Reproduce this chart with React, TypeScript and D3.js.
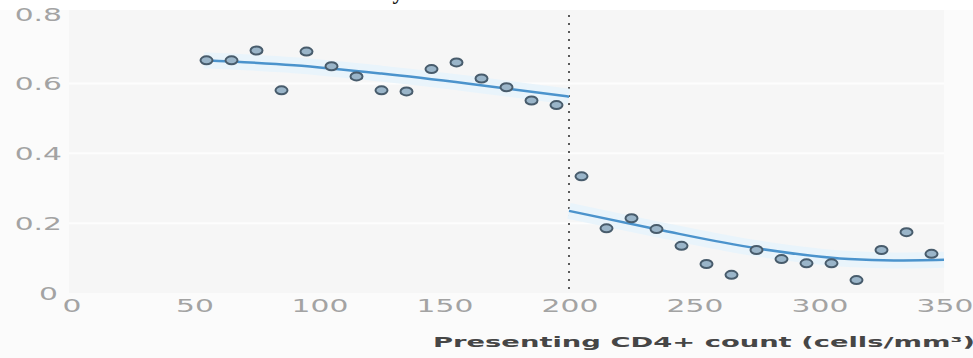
import React, { useEffect, useRef } from "react";
import * as d3 from "d3";

// CD4 count bins (cells/mm3) and observed proportions
const cd4Below = [55, 65, 75, 85, 95, 105, 115, 125, 135, 145, 155, 165, 175, 185, 195];
const propBelow = [0.666, 0.666, 0.694, 0.58, 0.691, 0.649, 0.62, 0.58, 0.577, 0.641, 0.66, 0.614, 0.589, 0.551, 0.538];
const cd4Above = [205, 215, 225, 235, 245, 255, 265, 275, 285, 295, 305, 315, 325, 335, 345];
const propAbove = [0.334, 0.185, 0.214, 0.183, 0.135, 0.083, 0.052, 0.123, 0.097, 0.085, 0.085, 0.037, 0.123, 0.174, 0.112];

// fitted curves
const fitBelowX = [54, 90, 125, 160, 200];
const fitBelowY = [0.666, 0.652, 0.628, 0.599, 0.562];
const fitAboveX = [200, 236, 275, 312, 330, 350];
const fitAboveY = [0.235, 0.181, 0.128, 0.097, 0.093, 0.095];

const xTicks = [0, 50, 100, 150, 200, 250, 300, 350];
const yTicks = [0, 0.2, 0.4, 0.6, 0.8];
const yTickLabels = ["0", "0.2", "0.4", "0.6", "0.8"];
const threshold = 200;
const xTitle = "Presenting CD4+ count (cells/mm³)";

const App = () => {
  const ref = useRef<HTMLDivElement>(null);

  useEffect(() => {
    d3.select(ref.current).selectAll("*").remove();

    const width = 973;
    const height = 358;

    const svg = d3
      .select(ref.current)
      .append("svg")
      .attr("width", width)
      .attr("height", height)
      .style("position", "absolute")
      .style("left", "0px")
      .style("top", "0px")
      .style("background", "#ffffff");

    const x = d3.scaleLinear().domain([0, 350]).range([69, 944]);
    const y = d3.scaleLinear().domain([0, 0.8]).range([293, 13.5]);

    // panel backgrounds
    svg.append("rect").attr("x", 0).attr("y", 10).attr("width", width).attr("height", height - 10).attr("fill", "#fbfbfb");
    svg
      .append("rect")
      .attr("x", x(0))
      .attr("y", 10)
      .attr("width", x(350) - x(0))
      .attr("height", y(0) - 10)
      .attr("fill", "#f6f6f6");

    // faint white gridlines
    svg
      .selectAll("line.grid")
      .data(yTicks.filter((d) => d > 0 && d < 0.8))
      .enter()
      .append("line")
      .attr("class", "grid")
      .attr("x1", x(0))
      .attr("x2", x(350))
      .attr("y1", (d) => y(d))
      .attr("y2", (d) => y(d))
      .attr("stroke", "#fdfdfd")
      .attr("stroke-width", 2);

    // cut-off fragment of a title above the chart (clipped in the source too)
    svg
      .append("text")
      .attr("x", 398)
      .attr("y", -1)
      .attr("text-anchor", "middle")
      .attr("font-family", "Liberation Serif")
      .attr("font-weight", "bold")
      .attr("font-size", 22)
      .attr("fill", "#111")
      .text("y");

    // y tick labels
    svg
      .selectAll("text.ytick")
      .data(yTicks)
      .enter()
      .append("text")
      .attr("class", "ytick")
      .attr("text-anchor", "end")
      .attr("transform", (d) => `translate(${d === 0 ? 58 : 62}, ${y(d) + 7}) scale(1.75, 1)`)
      .attr("font-family", "DejaVu Sans")
      .attr("font-size", 17)
      .attr("fill", "#a3a3a3")
      .text((d, i) => yTickLabels[i]);

    // x tick labels
    svg
      .selectAll("text.xtick")
      .data(xTicks)
      .enter()
      .append("text")
      .attr("class", "xtick")
      .attr("text-anchor", "middle")
      .attr("transform", (d) => `translate(${x(d) + (d === 0 ? 3 : 1)}, 312) scale(1.75, 1)`)
      .attr("font-family", "DejaVu Sans")
      .attr("font-size", 17)
      .attr("fill", "#a3a3a3")
      .text((d) => d);

    // x axis title
    svg
      .append("text")
      .attr("x", 433)
      .attr("y", 347)
      .attr("textLength", 542)
      .attr("lengthAdjust", "spacingAndGlyphs")
      .attr("font-family", "DejaVu Sans")
      .attr("font-weight", "bold")
      .attr("font-size", 14)
      .attr("fill", "#464646")
      .text(xTitle);

    // dotted threshold line
    svg
      .append("line")
      .attr("x1", x(threshold))
      .attr("x2", x(threshold))
      .attr("y1", y(0.8) + 1.5)
      .attr("y2", y(0) - 3)
      .attr("stroke", "#5a5a5a")
      .attr("stroke-width", 2)
      .attr("stroke-dasharray", "2,6");

    // fitted curves with soft halo
    const line = d3
      .line<[number, number]>()
      .x((d) => x(d[0]))
      .y((d) => y(d[1]))
      .curve(d3.curveMonotoneX);

    const fits: [number, number][][] = [
      fitBelowX.map((v, i) => [v, fitBelowY[i]]),
      fitAboveX.map((v, i) => [v, fitAboveY[i]])
    ];

    fits.forEach((pts) => {
      svg
        .append("path")
        .attr("d", line(pts))
        .attr("fill", "none")
        .attr("stroke", "#e9f4fb")
        .attr("stroke-width", 16)
        .attr("stroke-linecap", "butt");
      svg
        .append("path")
        .attr("d", line(pts))
        .attr("fill", "none")
        .attr("stroke", "#4b93cc")
        .attr("stroke-width", 2.5);
    });

    // observed points
    const points = [
      ...cd4Below.map((v, i) => [v, propBelow[i]]),
      ...cd4Above.map((v, i) => [v, propAbove[i]])
    ];

    svg
      .selectAll("ellipse.pt")
      .data(points)
      .enter()
      .append("ellipse")
      .attr("class", "pt")
      .attr("cx", (d) => x(d[0]))
      .attr("cy", (d) => y(d[1]))
      .attr("rx", 6)
      .attr("ry", 4)
      .attr("fill", "#9ab5c9")
      .attr("stroke", "#485c6c")
      .attr("stroke-width", 2);
  }, []);

  return <div ref={ref} id="chart"></div>;
};

export default App;
